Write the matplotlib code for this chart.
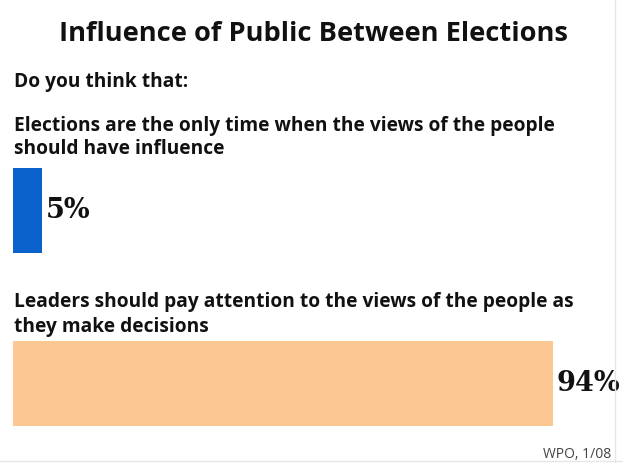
import matplotlib
matplotlib.use("Agg")
import matplotlib.pyplot as plt

title = "Influence of Public Between Elections"
prompt = "Do you think that:"
questions = [
    ["Elections are the only time when the views of the people",
     "should have influence"],
    ["Leaders should pay attention to the views of the people as",
     "they make decisions"],
]
values = [5, 94]
colors = ["#0b62cc", "#fdc794"]
source = "WPO, 1/08"

W, H = 623, 463
fig = plt.figure(figsize=(W / 100, H / 100), dpi=100)
fig.patch.set_facecolor("white")

# bars: 100% spans 574 px starting at x=13; bars run from y=168 to y=426
bar_h = 0.491
ax = fig.add_axes([13 / W, (H - 426) / H, 574 / W, (426 - 168) / H])
ax.barh(range(len(values)), values, height=bar_h, color=colors, edgecolor="none")
ax.set_xlim(0, 100)
ax.set_ylim(len(values) - 1 + bar_h / 2, -bar_h / 2)
ax.axis("off")

for i, v in enumerate(values):
    ax.annotate(f"{v}%", (v, i), xytext=(3, 0), textcoords="offset points",
                ha="left", va="center", fontsize=19.5, fontweight="bold",
                family="DejaVu Serif", color="#111111")


def px(x, y):
    return x / W, 1 - y / H


sans = "Open Sans"
ink = "#111111"
fig.text(*px(313, 41), title, ha="center", va="baseline", fontsize=19.6,
         fontweight="bold", family=sans, color=ink)
fig.text(*px(14, 87), prompt, ha="left", va="baseline", fontsize=13.8,
         fontweight="bold", family=sans, color=ink)

baselines = [[131, 154], [307, 332]]
for lines, ys in zip(questions, baselines):
    for line, y in zip(lines, ys):
        fig.text(*px(14, y), line, ha="left", va="baseline", fontsize=13.8,
                 fontweight="bold", family=sans, color=ink)

fig.text(*px(611, 454), source, ha="right", va="center", fontsize=10,
         family=sans, color="#444444")

# faint frame edges on the right and bottom
fig.add_artist(plt.Line2D([615 / W, 615 / W], [0, 1], color="#e6e6e6", lw=1))
fig.add_artist(plt.Line2D([0, 1], [2 / H, 2 / H], color="#e6e6e6", lw=1))

fig.savefig("out.png", dpi=100, facecolor="white")
